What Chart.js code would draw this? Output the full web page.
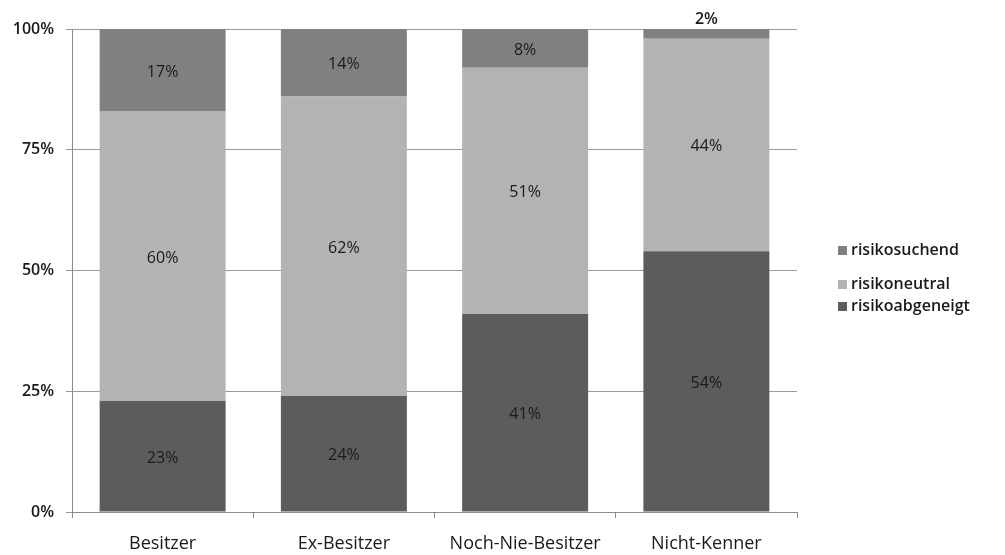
<!DOCTYPE html>
<html>
<head>
<meta charset="utf-8">
<script src="https://cdn.jsdelivr.net/npm/chart.js@4"></script>
<style>
  html, body { margin: 0; padding: 0; background: #fff; }
  #wrap { width: 1005px; height: 555px; }
</style>
</head>
<body>
<div id="wrap"><canvas id="chart"></canvas></div>
<script>
const categories = ["Besitzer", "Ex-Besitzer", "Noch-Nie-Besitzer", "Nicht-Kenner"];
const risikoabgeneigt = [23, 24, 41, 54];
const risikoneutral = [60, 62, 51, 44];
const risikosuchend = [17, 14, 8, 2];
const yTicks = [0, 25, 50, 75, 100];

const FONT = "'Open Sans', sans-serif";

// labels inside bars (small segments get their label above the bar)
const barLabels = {
  id: "barLabels",
  afterDatasetsDraw(chart) {
    const ctx = chart.ctx;
    ctx.save();
    ctx.textAlign = "center";
    ctx.textBaseline = "middle";
    ctx.fillStyle = "#1a1a1a";
    chart.data.datasets.forEach((ds, i) => {
      chart.getDatasetMeta(i).data.forEach((bar, j) => {
        const v = ds.data[j];
        const h = Math.abs(bar.base - bar.y);
        let y = (bar.y + bar.base) / 2 + 2;
        ctx.font = "16px " + FONT;
        if (h < 18) {
          y = bar.y - 10;
          ctx.font = "600 16px " + FONT;
        }
        ctx.fillText(v + "%", bar.x, y);
      });
    });
    ctx.restore();
  },
};

// legend on the right
const sideLegend = {
  id: "sideLegend",
  afterDraw(chart) {
    const ctx = chart.ctx;
    const items = [
      ["risikosuchend", "#808080", 250],
      ["risikoneutral", "#b3b3b3", 284],
      ["risikoabgeneigt", "#5c5c5c", 306],
    ];
    ctx.save();
    ctx.font = "600 16px " + FONT;
    ctx.textBaseline = "middle";
    items.forEach(([t, c, y]) => {
      ctx.fillStyle = c;
      ctx.fillRect(838, y - 4, 9, 9);
      ctx.fillStyle = "#1a1a1a";
      ctx.fillText(t, 851, y);
    });
    ctx.restore();
  },
};

const ctx = document.getElementById("chart").getContext("2d");
new Chart(ctx, {
  type: "bar",
  data: {
    labels: categories,
    datasets: [
      { label: "risikoabgeneigt", data: risikoabgeneigt, backgroundColor: "#5c5c5c" },
      { label: "risikoneutral", data: risikoneutral, backgroundColor: "#b3b3b3" },
      { label: "risikosuchend", data: risikosuchend, backgroundColor: "#808080" },
    ],
  },
  options: {
    responsive: true,
    maintainAspectRatio: false,
    animation: false,
    categoryPercentage: 0.695,
    barPercentage: 1,
    layout: { padding: { top: 29, right: 208, left: 0, bottom: 0 } },
    plugins: {
      legend: { display: false },
      tooltip: { enabled: false },
    },
    scales: {
      x: {
        stacked: true,
        afterFit: (s) => { s.height = 43; },
        border: { color: "#8c8c8c" },
        grid: { drawOnChartArea: false, drawTicks: true, tickLength: 6, color: "#8c8c8c", offset: true },
        ticks: { color: "#1a1a1a", font: { family: FONT, size: 18 }, padding: 15 },
      },
      y: {
        stacked: true,
        min: 0,
        max: 100,
        afterFit: (s) => { s.width = 72; },
        afterBuildTicks: (s) => { s.ticks = yTicks.map((v) => ({ value: v })); },
        border: { color: "#8c8c8c" },
        grid: { color: "#9a9a9a", tickLength: 6 },
        ticks: {
          color: "#1a1a1a",
          font: { family: FONT, size: 16, weight: "600" },
          padding: 12,
          callback: (v) => v + "%",
        },
      },
    },
  },
  plugins: [barLabels, sideLegend],
});
</script>
</body>
</html>
